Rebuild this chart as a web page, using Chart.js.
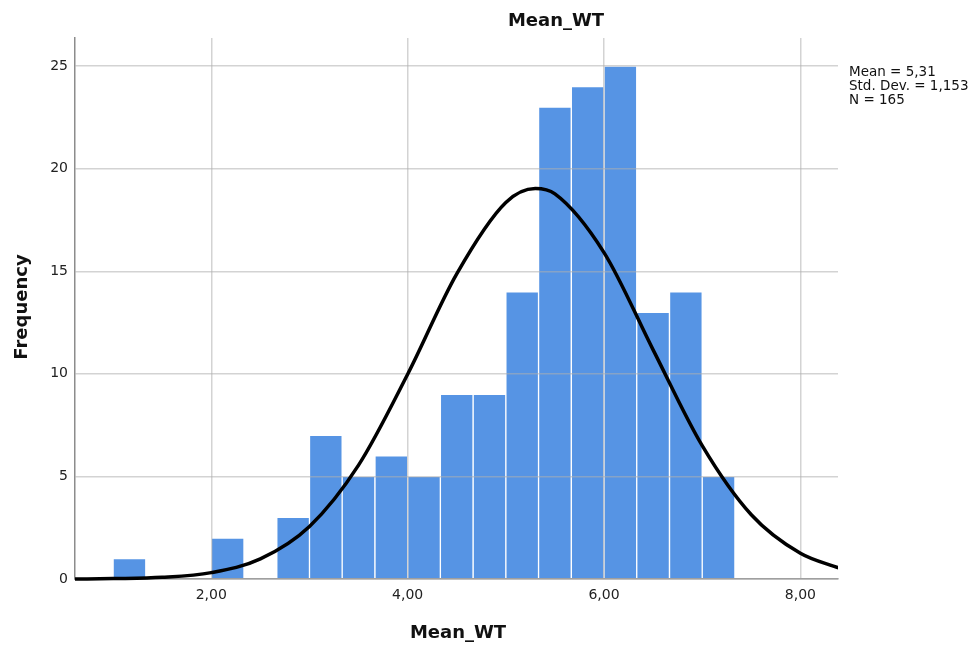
<!DOCTYPE html>
<html lang="en">
<head>
    <meta charset="UTF-8">
    <title>Mean_WT Histogram</title>
    <script src="https://cdn.jsdelivr.net/npm/chart.js"></script>
    <style>
        body { margin: 0; background: #fff; }
        #wrap { width: 975px; height: 651px; }
    </style>
</head>
<body>
    <div id="wrap"><canvas id="histChart" width="975" height="651"></canvas></div>

    <script>
        // histogram bins (left edge of each bin, width 1/3) and counts
        const binWidth = 1 / 3;
        const binStarts = [1.0, 1.333, 1.667, 2.0, 2.333, 2.667, 3.0, 3.333, 3.667, 4.0,
                           4.333, 4.667, 5.0, 5.333, 5.667, 6.0, 6.333, 6.667, 7.0];
        const counts = [1, 0, 0, 2, 0, 3, 7, 5, 6, 5, 9, 9, 14, 23, 24, 25, 13, 14, 5];

        // normal curve
        const curveX = [0.6, 1.0, 1.5, 2.0, 2.5, 3.0, 3.5, 4.0, 4.5, 5.0, 5.3, 5.5, 6.0, 6.5, 7.0, 7.5, 8.0, 8.4];
        const curveY = [0.0, 0.02, 0.08, 0.31, 0.98, 2.56, 5.55, 9.98, 14.87, 18.35, 19.03, 18.77, 15.91, 11.17, 6.5, 3.13, 1.25, 0.52];

        const xTicks = [2, 4, 6, 8];
        const yTicks = [0, 5, 10, 15, 20, 25];
        const statsLines = ['Mean = 5,31', 'Std. Dev. = 1,153', 'N = 165'];

        const barData = binStarts.map((s, i) => ({ x: s + binWidth / 2, y: counts[i] }));
        const curveData = curveX.map((x, i) => ({ x: x, y: curveY[i] }));

        const fontFamily = '"DejaVu Sans", sans-serif';

        // draws the titles and the stats box, and puts the curve on top of the grid
        const extras = {
            id: 'extras',
            beforeDatasetDraw(chart, args) {
                if (args.index === 1) return false;
            },
            afterDraw(chart) {
                const ctx = chart.ctx;
                const area = chart.chartArea;

                ctx.save();
                ctx.beginPath();
                ctx.rect(area.left, area.top - 2, area.right - area.left, area.bottom - area.top + 4);
                ctx.clip();
                chart.getDatasetMeta(1).controller.draw();
                ctx.restore();

                ctx.save();
                ctx.fillStyle = '#111';
                ctx.textAlign = 'center';
                ctx.textBaseline = 'middle';
                ctx.font = 'bold 18px ' + fontFamily;
                ctx.fillText('Mean_WT', 556, 21);
                ctx.fillText('Mean_WT', 458, 633);

                ctx.translate(22, 307);
                ctx.rotate(-Math.PI / 2);
                ctx.fillText('Frequency', 0, 0);
                ctx.restore();

                ctx.save();
                ctx.fillStyle = '#111';
                ctx.font = '13.5px ' + fontFamily;
                ctx.textAlign = 'left';
                ctx.textBaseline = 'middle';
                statsLines.forEach((line, i) => ctx.fillText(line, 849, 72 + i * 14));
                ctx.restore();
            }
        };

        const gridStyle = { color: 'rgba(175,175,175,0.55)', lineWidth: 1.5, drawTicks: false, offset: false, z: 1 };
        const borderStyle = { color: '#8c8c8c', width: 1.5, z: 1 };

        const ctx = document.getElementById('histChart').getContext('2d');
        new Chart(ctx, {
            type: 'bar',
            data: {
                datasets: [{
                    type: 'bar',
                    data: barData,
                    backgroundColor: '#5694e4',
                    borderColor: '#ffffff',
                    borderWidth: 1,
                    barPercentage: 1,
                    categoryPercentage: 1
                }, {
                    type: 'line',
                    data: curveData,
                    borderColor: '#000000',
                    borderWidth: 3.5,
                    pointRadius: 0,
                    fill: false,
                    cubicInterpolationMode: 'monotone'
                }]
            },
            options: {
                responsive: false,
                animation: false,
                layout: { padding: { top: 38, right: 137, left: 0, bottom: 0 } },
                plugins: {
                    legend: { display: false },
                    tooltip: { enabled: false },
                    title: { display: false }
                },
                scales: {
                    x: {
                        type: 'linear',
                        offset: false,
                        min: 0.612,
                        max: 8.383,
                        afterBuildTicks: scale => {
                            scale.ticks = xTicks.map(v => ({ value: v }));
                        },
                        afterFit: scale => { scale.height = 72; },
                        grid: gridStyle,
                        border: borderStyle,
                        ticks: {
                            padding: 8,
                            color: '#222',
                            font: { family: fontFamily, size: 14 },
                            callback: v => v.toFixed(2).replace('.', ',')
                        }
                    },
                    y: {
                        min: 0,
                        max: 26.37,
                        afterBuildTicks: scale => {
                            scale.ticks = yTicks.map(v => ({ value: v }));
                        },
                        afterFit: scale => { scale.width = 75; },
                        grid: gridStyle,
                        border: borderStyle,
                        ticks: {
                            padding: 7,
                            color: '#222',
                            font: { family: fontFamily, size: 14 }
                        }
                    }
                }
            },
            plugins: [extras]
        });
    </script>
</body>
</html>
